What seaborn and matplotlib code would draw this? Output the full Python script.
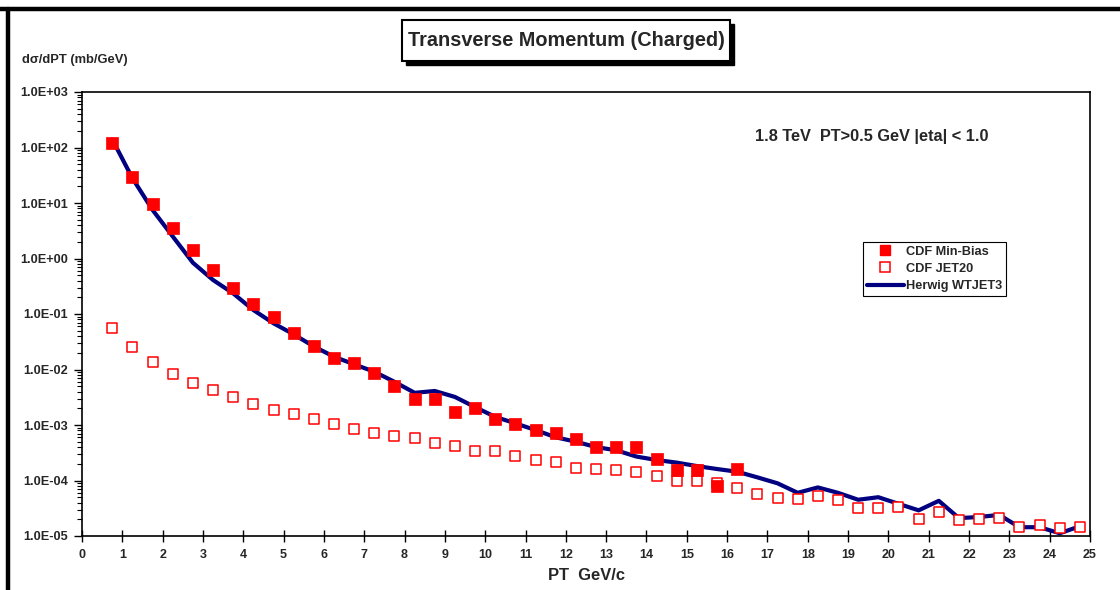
import numpy as np
import pandas as pd
import matplotlib
matplotlib.use("Agg")
import matplotlib.pyplot as plt
from matplotlib.lines import Line2D
from matplotlib.patches import Rectangle
from matplotlib.ticker import FuncFormatter, LogLocator, NullFormatter
import seaborn as sns

# ---------------- data ----------------
pt_minbias = [0.75 + 0.5 * i for i in range(32)]
minbias = [120, 30, 9.6, 3.5, 1.4, 0.62, 0.29, 0.15, 0.087, 0.045, 0.0265, 0.0159,
           0.0129, 0.0085, 0.0051, 0.003, 0.003, 0.00174, 0.002, 0.00127, 0.00104,
           0.00081, 0.00073, 0.00056, 0.0004, 0.0004, 0.0004, 0.000244, 0.000155,
           0.000155, 0.00008, 0.00016]

pt_full = [0.75 + 0.5 * i for i in range(49)]
jet20 = [0.055, 0.0254, 0.0136, 0.0083, 0.0057, 0.0043, 0.0032, 0.0024, 0.00186,
         0.00156, 0.00128, 0.00104, 0.00085, 0.00072, 0.00064, 0.00059, 0.00047,
         0.00042, 0.00034, 0.00034, 0.00028, 0.000234, 0.000213, 0.00017, 0.00016,
         0.000155, 0.000142, 0.000119, 0.0001, 0.0001, 0.00009, 0.000074, 0.000056,
         0.000049, 0.000046, 0.000053, 0.000045, 0.000032, 0.000032, 0.000034,
         0.00002, 0.000027, 0.0000194, 0.00002, 0.000021, 0.0000144, 0.0000156,
         0.0000141, 0.0000145]
herwig = [140, 28, 7.5, 2.5, 0.84, 0.41, 0.235, 0.118, 0.068, 0.043, 0.026, 0.017,
          0.0124, 0.0091, 0.006, 0.0038, 0.0041, 0.0032, 0.0021, 0.0014, 0.00107,
          0.00081, 0.0006, 0.0005, 0.0004, 0.00035, 0.00027, 0.000234, 0.00021,
          0.000182, 0.000161, 0.000144, 0.000114, 0.000089, 0.00006, 0.000075,
          0.00006, 0.000045, 0.00005, 0.000038, 0.000029, 0.000043, 0.000021,
          0.000022, 0.000024, 0.0000144, 0.0000144, 0.0000112, 0.000015]

x_ticks = list(range(0, 26))
y_ticks = [1e-5, 1e-4, 1e-3, 1e-2, 1e-1, 1e0, 1e1, 1e2, 1e3]

labels_legend = ["CDF Min-Bias", "CDF JET20", "Herwig WTJET3"]
title_text = "Transverse Momentum (Charged)"
ylabel_text = "d\u03c3/dPT (mb/GeV)"
xlabel_text = "PT  GeV/c"
note_text = "1.8 TeV  PT>0.5 GeV |eta| < 1.0"

df_mb = pd.DataFrame({"pt": pt_minbias, "val": minbias})
df_full = pd.DataFrame({"pt": pt_full, "jet20": jet20, "herwig": herwig})

# ---------------- style ----------------
sns.set_style("white")
plt.rcParams["font.family"] = ["Liberation Sans", "DejaVu Sans"]
plt.rcParams["font.weight"] = "bold"

W, H = 1120, 590
fig = plt.figure(figsize=(W / 100, H / 100), dpi=100)
ax = fig.add_axes([82 / W, 1 - 536 / H, (1090 - 82) / W, (536 - 92) / H])

navy = "#000080"
red = "#ff0000"

sns.lineplot(data=df_full, x="pt", y="herwig", ax=ax, color=navy, linewidth=3.0,
             sort=False, zorder=2)
sns.scatterplot(data=df_full, x="pt", y="jet20", ax=ax, marker="s", s=60,
                color="white", edgecolor=red, linewidth=1.1, zorder=3)
sns.scatterplot(data=df_mb, x="pt", y="val", ax=ax, marker="s", s=75,
                color=red, edgecolor=red, linewidth=0.5, zorder=4)

ax.set_yscale("log")
ax.set_xlim(0, 25)
ax.set_ylim(1e-5, 1e3)
ax.set_xticks(x_ticks)
ax.set_xticklabels([str(v) for v in x_ticks], fontsize=9, fontweight="bold")
ax.set_yticks(y_ticks)
ax.yaxis.set_major_formatter(FuncFormatter(lambda v, p: f"{v:.1E}"))
ax.yaxis.set_minor_locator(LogLocator(base=10, subs=np.arange(2, 10), numticks=20))
ax.yaxis.set_minor_formatter(NullFormatter())
for lab in ax.get_yticklabels():
    lab.set_fontsize(9.2)
    lab.set_fontweight("bold")
ax.tick_params(axis="y", which="major", direction="out", length=6, width=1,
               color="black", left=True, right=False, pad=4)
ax.tick_params(axis="y", which="minor", direction="out", length=3.5, width=0.8,
               color="black", left=True, right=False)
ax.tick_params(axis="x", which="major", direction="inout", length=8, width=1,
               color="black", bottom=True, top=False, pad=5)
ax.set_xlabel("")
ax.set_ylabel("")
for sp in ax.spines.values():
    sp.set_color("black")
    sp.set_linewidth(1.2)

# x label
fig.text(586 / W, 1 - 576 / H, xlabel_text, ha="center", va="center",
         fontsize=11.9, fontweight="bold")
# y label
fig.text(22 / W, 1 - 60 / H, ylabel_text, ha="left", va="center",
         fontsize=9.3, fontweight="bold")
# annotation
fig.text(755 / W, 1 - 137 / H, note_text, ha="left", va="center",
         fontsize=11.8, fontweight="bold")

# title box with shadow
bx0, bx1, by0, by1 = 402, 730, 20, 61
fig.add_artist(Rectangle(((bx0 + 4) / W, 1 - (by1 + 4) / H), (bx1 - bx0) / W,
                         (by1 - by0) / H, transform=fig.transFigure,
                         facecolor="black", edgecolor="black", zorder=5))
fig.add_artist(Rectangle((bx0 / W, 1 - by1 / H), (bx1 - bx0) / W, (by1 - by0) / H,
                         transform=fig.transFigure, facecolor="white",
                         edgecolor="black", linewidth=1.5, zorder=6))
fig.text((bx0 + bx1) / 2 / W, 1 - 41 / H, title_text, ha="center", va="center",
         fontsize=14.3, fontweight="bold", zorder=7)

# outer frame (top and left thick lines)
fig.add_artist(Line2D([0, 1], [1 - 9 / H, 1 - 9 / H], transform=fig.transFigure,
                      color="black", linewidth=3.2))
fig.add_artist(Line2D([8 / W, 8 / W], [0, 1 - 9 / H], transform=fig.transFigure,
                      color="black", linewidth=3.2))

# legend
handles = [
    Line2D([], [], linestyle="none", marker="s", markersize=7, markerfacecolor=red,
           markeredgecolor=red),
    Line2D([], [], linestyle="none", marker="s", markersize=7,
           markerfacecolor="white", markeredgecolor=red, markeredgewidth=1.1),
    Line2D([], [], color=navy, linewidth=3.0),
]
leg = fig.legend(handles, labels_legend, loc="upper left",
                 bbox_to_anchor=(863 / W, 1 - 242 / H), frameon=True, fancybox=False,
                 shadow=False, framealpha=1, edgecolor="black", fontsize=9.2,
                 handlelength=2.9, handletextpad=0.15, labelspacing=0.4,
                 borderpad=0.3, borderaxespad=0)
for t in leg.get_texts():
    t.set_fontweight("bold")
leg.get_frame().set_linewidth(0.8)

fig.savefig("out.png", dpi=100)
